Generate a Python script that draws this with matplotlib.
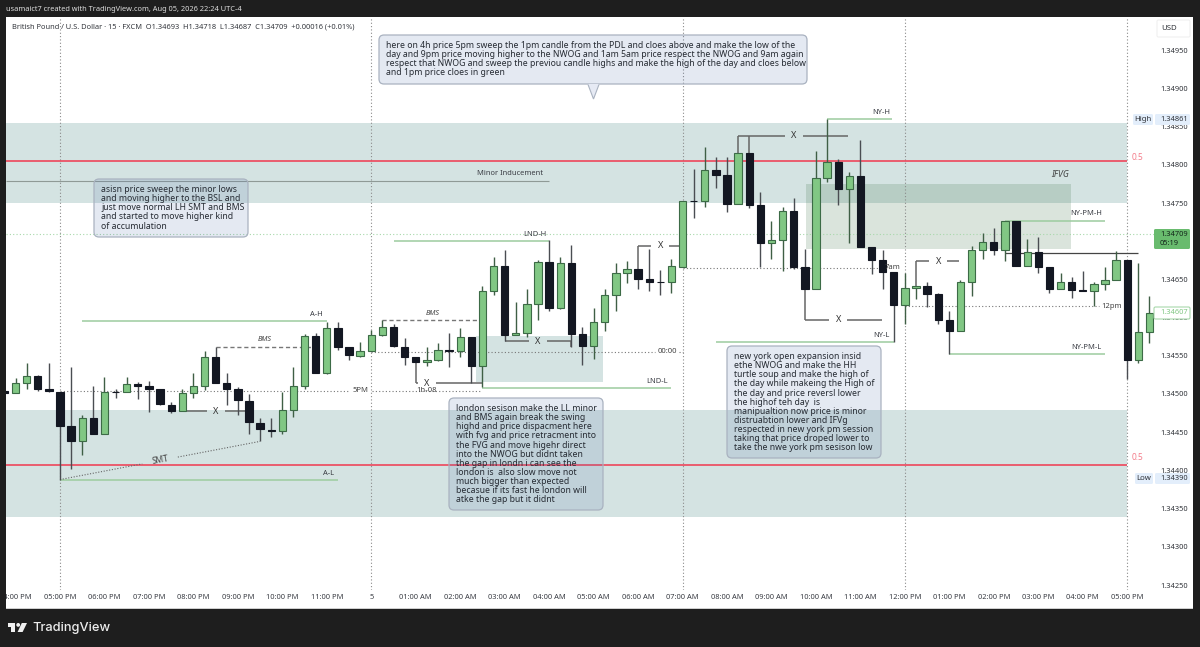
import matplotlib
matplotlib.use("Agg")
import matplotlib.pyplot as plt
import matplotlib.transforms as mt
from matplotlib.patches import Rectangle, FancyBboxPatch, Polygon, Circle

# ---------------- data: 15-minute GBP/USD candles (first bar = 03:45 PM) ----------------
opens = [1.34504,1.34501,1.34514,1.34523,1.34507,
 1.34503,1.34458,1.34439,1.34469,1.34447,1.34503,1.34502,1.34513,1.34510,1.34507,
 1.34486,1.34478,1.34501,1.34511,1.34548,1.34514,1.34506,1.34491,1.34462,1.34453,
 1.34452,1.34479,1.34510,1.34576,1.34527,1.34587,1.34561,1.34550,1.34556,
 1.34577,1.34588,1.34562,1.34549,1.34542,1.34544,1.34558,1.34556,1.34575,1.34537,
 1.34635,1.34668,1.34577,1.34580,1.34618,1.34673,1.34612,1.34671,1.34578,1.34563,
 1.34594,1.34629,1.34658,1.34663,1.34651,1.34646,1.34646,
 1.34666,1.34753,1.34752,1.34793,1.34787,1.34749,1.34816,1.34747,1.34698,1.34701,
 1.34739,1.34666,1.34637,1.34783,1.34804,1.34768,1.34785,1.34693,1.34676,1.34660,
 1.34617,1.34639,1.34642,1.34631,1.34597,1.34582,1.34646,1.34688,1.34699,1.34688,
 1.34726,1.34667,1.34686,1.34666,1.34638,1.34647,1.34636,1.34635,1.34644,1.34649,
 1.34676,1.34545,1.34581]
highs = [1.34504,1.34521,1.34540,1.34525,1.34540,
 1.34503,1.34535,1.34473,1.34510,1.34522,1.34506,1.34522,1.34516,1.34517,1.34507,
 1.34490,1.34507,1.34528,1.34556,1.34561,1.34528,1.34509,1.34500,1.34468,1.34468,
 1.34502,1.34535,1.34578,1.34580,1.34594,1.34594,1.34562,1.34568,1.34584,
 1.34597,1.34592,1.34573,1.34549,1.34562,1.34567,1.34580,1.34587,1.34575,1.34641,
 1.34679,1.34689,1.34620,1.34638,1.34675,1.34701,1.34679,1.34695,1.34588,1.34612,
 1.34637,1.34672,1.34674,1.34663,1.34690,1.34662,1.34677,
 1.34753,1.34795,1.34823,1.34810,1.34810,1.34816,1.34816,1.34764,1.34727,1.34745,
 1.34757,1.34690,1.34818,1.34860,1.34807,1.34790,1.34832,1.34693,1.34689,1.34660,
 1.34658,1.34642,1.34646,1.34632,1.34609,1.34649,1.34694,1.34711,1.34717,1.34727,
 1.34727,1.34703,1.34705,1.34666,1.34659,1.34653,1.34661,1.34646,1.34666,1.34687,
 1.34676,1.34672,1.34628]
lows = [1.34501,1.34501,1.34507,1.34504,1.34503,
 1.34388,1.34402,1.34420,1.34447,1.34447,1.34495,1.34502,1.34493,1.34476,1.34485,
 1.34475,1.34478,1.34495,1.34505,1.34514,1.34486,1.34472,1.34447,1.34438,1.34444,
 1.34448,1.34470,1.34507,1.34527,1.34526,1.34557,1.34545,1.34549,1.34556,
 1.34576,1.34561,1.34538,1.34542,1.34536,1.34543,1.34535,1.34549,1.34515,1.34509,
 1.34629,1.34570,1.34577,1.34575,1.34597,1.34608,1.34611,1.34562,1.34538,1.34546,
 1.34583,1.34608,1.34645,1.34637,1.34635,1.34629,1.34632,
 1.34666,1.34730,1.34745,1.34769,1.34738,1.34749,1.34744,1.34666,1.34677,1.34661,
 1.34663,1.34637,1.34637,1.34778,1.34747,1.34698,1.34693,1.34657,1.34637,1.34568,
 1.34592,1.34625,1.34614,1.34591,1.34552,1.34582,1.34628,1.34677,1.34682,1.34674,
 1.34667,1.34667,1.34658,1.34632,1.34637,1.34626,1.34635,1.34615,1.34636,1.34649,
 1.34520,1.34540,1.34567]
closes = [1.34501,1.34514,1.34523,1.34507,1.34504,
 1.34458,1.34439,1.34469,1.34447,1.34503,1.34502,1.34513,1.34510,1.34507,1.34487,
 1.34478,1.34501,1.34511,1.34548,1.34514,1.34506,1.34492,1.34463,1.34454,1.34452,
 1.34479,1.34510,1.34576,1.34527,1.34587,1.34562,1.34551,1.34556,1.34577,
 1.34588,1.34563,1.34549,1.34542,1.34544,1.34558,1.34556,1.34575,1.34537,1.34635,
 1.34668,1.34577,1.34580,1.34618,1.34673,1.34612,1.34671,1.34578,1.34563,1.34594,
 1.34629,1.34658,1.34663,1.34651,1.34646,1.34646,1.34667,
 1.34753,1.34752,1.34793,1.34787,1.34749,1.34816,1.34747,1.34698,1.34701,1.34739,
 1.34666,1.34637,1.34783,1.34804,1.34768,1.34785,1.34693,1.34676,1.34660,1.34617,
 1.34639,1.34642,1.34631,1.34597,1.34582,1.34646,1.34688,1.34699,1.34688,1.34726,
 1.34667,1.34686,1.34666,1.34638,1.34647,1.34636,1.34635,1.34644,1.34649,1.34676,
 1.34545,1.34581,1.34606]
first_bar = -5
last_price = 1.34709

price_ticks = [1.3425,1.3430,1.3435,1.3440,1.3445,1.3450,1.3455,1.3460,1.3465,1.3470,1.3475,1.3480,1.3485,1.3490,1.3495]
time_ticks = list(range(-4, 97, 4))
time_labels = ["04:00 PM","05:00 PM","06:00 PM","07:00 PM","08:00 PM","09:00 PM","10:00 PM","11:00 PM","5",
 "01:00 AM","02:00 AM","03:00 AM","04:00 AM","05:00 AM","06:00 AM","07:00 AM","08:00 AM","09:00 AM","10:00 AM","11:00 AM",
 "12:00 PM","01:00 PM","02:00 PM","03:00 PM","04:00 PM","05:00 PM"]
session_bars = [0, 28, 56, 76, 96]

# (name, first bar, last bar, price, label bar)
levels = [("A-H",2,24,1.34595,23.1),("A-L",0,25,1.34387,24.2),("LND-H",30,44,1.34700,42.7),
          ("LND-L",38,55,1.34508,53.7),("NY-H",69,74.8,1.34860,73.9),("NY-L",59,75,1.34568,73.9),
          ("NY-PM-H",85,94,1.34727,92.3),("NY-PM-L",80,94,1.34552,92.3)]
zones = [(-4.86,96,1.34750,1.34855),(-4.86,96,1.34339,1.34479)]
mid_lines = [1.34805,1.34407]
small_zone = (37.4,48.8,1.34516,1.34576)
fvg = (67.1,90.9,1.34690,1.34775)
# (first bar, last bar, price, label, label bar)
session_opens = [(0,38,1.34504,"5PM",27.0),(28,56,1.34555,"00:00",54.6),(56,74.2,1.34665,"7am",74.9),(76,94,1.34615,"12pm",94.6)]
# X markers: first bar, last bar, price, label bar, list of (bar, anchor price)
x_marks = [(11,17,1.344775,14,[]),
           (32,38,1.34514,33,[(32,1.34542)]),
           (40,46,1.34569,43,[(46,1.34562)]),
           (52,56,1.34694,54,[(52,1.34663)]),
           (61,70.9,1.34838,66,[(61,1.34816),(62,1.34816)]),
           (67,73.9,1.34597,70,[(67,1.34637)]),
           (77,80.9,1.34674,79,[(77,1.34642)])]
bms = [(14,22.6,1.34561,18.4,1.34571),(29,38,1.34597,33.5,1.34606)]
smt = (0,1.34388,18,1.34438)

notes = [
 (379,35,807,84,386,["here on 4h price 5pm sweep the 1pm candle from the PDL and cloes above and make the low of the",
   "day and 9pm price moving higher to the NWOG and 1am 5am price respect the NWOG and 9am again",
   "respect that NWOG and sweep the previou candle highs and make the high of the day and cloes below",
   "and 1pm price cloes in green"]),
 (94,179,248,237,101,["asisn price sweep the minor lows","and moving higher to the BSL and","just move normal LH SMT and BMS",
   "and started to move higher kind","of accumulation"]),
 (449,398,603,510,456,["london sesison make the LL minor","and BMS again break the swing","highd and price dispacment here",
   "with fvg and price retracment into","the FVG and move higehr direct","into the NWOG but didnt taken",
   "the gap in londn i can see the","london is  also slow move not","much bigger than expected",
   "becasue if its fast he london will","atke the gap but it didnt"]),
 (727,346,881,458,734,["new york open expansion insid","ethe NWOG and make the HH","turtle soup and make the high of",
   "the day while makeing the High of","the day and price reversl lower","the highof teh day  is",
   "manipualtion now price is minor","distruabtion lower and IFVg","respected in new york pm session",
   "taking that price droped lower to","take the nwe york pm sesison low"]),
]

# ---------------- figure ----------------
W, H = 1200, 647
plt.rcParams["font.family"] = ["Noto Sans", "DejaVu Sans"]
fig = plt.figure(figsize=(W/100, H/100), dpi=100, facecolor="#1e1e1e")
PX = mt.Affine2D().scale(1, -1).translate(0, H)

L, R, T, B = 6, 1156, 17, 590
ax = fig.add_axes([L/W, 1-B/H, (R-L)/W, (B-T)/H], facecolor="none")
BAR_PX = 11.117
PX_PER_PRICE = 76400
ax.set_xlim((L-60)/BAR_PX, (R-60)/BAR_PX)
ax.set_ylim(1.3475-(B-203)/PX_PER_PRICE, 1.3475+(203-T)/PX_PER_PRICE)
for s in ax.spines.values():
    s.set_visible(False)

fig.add_artist(Rectangle((6,17),1187,591,transform=PX,facecolor="white",edgecolor="none",zorder=-5))

ax.yaxis.tick_right()
ax.set_yticks(price_ticks)
ax.set_yticklabels([f"{p:.5f}" for p in price_ticks], fontsize=5.35, color="#2f3238")
ax.set_xticks(time_ticks)
ax.set_xticklabels(time_labels, fontsize=5.4, color="#3a3d44")
ax.tick_params(axis="both", length=0)
ax.tick_params(axis="y", pad=3)
ax.tick_params(axis="x", pad=3)

TEAL = "#d4e3e2"
for x0,x1,y0,y1 in zones:
    ax.add_patch(Rectangle((x0,y0),x1-x0,y1-y0,facecolor=TEAL,edgecolor="none",zorder=1))
ax.add_patch(Rectangle((small_zone[0],small_zone[2]),small_zone[1]-small_zone[0],small_zone[3]-small_zone[2],
                       facecolor=TEAL,edgecolor="none",zorder=1))
ax.add_patch(Rectangle((fvg[0],fvg[2]),fvg[1]-fvg[0],fvg[3]-fvg[2],facecolor=(0.16,0.39,0.2),alpha=0.17,edgecolor="none",zorder=1.2))

for b in session_bars:
    ax.axvline(b,color="#8a8a8a",lw=0.8,ls=(0,(1,2)),zorder=1.5)
ax.hlines(last_price,(L-60)/BAR_PX,(R-60)/BAR_PX,color="#a8d8ab",lw=0.8,ls=(0,(1,2)),zorder=1.5)

for y in mid_lines:
    ax.hlines(y,-4.86,96,color="#f0394f",lw=1.1,zorder=2)
ax.text(96.4,1.34810,"0.5",color="#f47c8a",fontsize=6,va="center",ha="left")
ax.text(96.4,1.34417,"0.5",color="#f47c8a",fontsize=6,va="center",ha="left")

GL = "#9ccc9f"
ax.hlines(1.34779,-4.86,44,color="#8f9a96",lw=0.8,zorder=2)
ax.text(40.5,1.34788,"Minor Inducement",fontsize=5.4,fontweight="bold",color="#3a3d44",ha="center",va="center",zorder=6)
for name,x0,x1,y,lx in levels:
    ax.hlines(y,x0,x1,color=GL,lw=1.1,zorder=2)
    ax.text(lx,y+0.00009,name,fontsize=5.4,fontweight="bold",color="#3a3d44",ha="center",va="center",zorder=6)
ax.hlines(1.34685,85,97,color="#444",lw=0.9,zorder=2)
ax.text(90,1.34787,"IFVG",fontsize=6.3,style="italic",color="#444",ha="center",va="center",zorder=6)

# candles
xs = [first_bar+i for i in range(len(opens))]
for x,o,h,l,c in zip(xs,opens,highs,lows,closes):
    up = c > o
    ax.vlines(x,l,h,color="#3f5f45" if up else "#4a4d52",lw=1.0,zorder=3)
    ax.bar(x,abs(c-o),bottom=min(o,c),width=0.66,color="#81c784" if up else "#131722",
           edgecolor="#3c6b46" if up else "#131722",linewidth=0.8,zorder=4)

# session open lines
DOT = dict(color="#777",lw=0.8,ls=(0,(1,2)),zorder=2.5)
for x0,x1,y,lab,lx in session_opens:
    ax.hlines(y,x0,lx-1.1,**DOT)
    if lx+1.1 < x1:
        ax.hlines(y,lx+1.1,x1,**DOT)
    ax.text(lx,y,lab,fontsize=5.5,color="#444",ha="center",va="center",zorder=6)
ax.text(33,1.34504,"1h-08",fontsize=5.5,color="#444",ha="center",va="center",zorder=6)

# X markers
GR = dict(color="#666",lw=1.1,zorder=2.6)
for x0,x1,y,lx,anch in x_marks:
    ax.hlines(y,x0,lx-0.8,**GR)
    ax.hlines(y,lx+0.8,x1,**GR)
    ax.text(lx,y,"X",fontsize=6.6,fontweight="bold",color="#333",ha="center",va="center",zorder=6)
    for bx,py in anch:
        ax.vlines(bx,min(y,py),max(y,py),**GR)

# BMS
for x0,x1,y,lx,ly in bms:
    ax.hlines(y,x0,x1,color="#777",lw=1.0,ls=(0,(3,2)),zorder=2.6)
    ax.text(lx,ly,"BMS",fontsize=5.2,style="italic",color="#444",ha="center",va="center",zorder=6)

# SMT
x0,y0,x1,y1 = smt
mx,my = (x0+x1)/2,(y0+y1)/2
f = 1.6/(x1-x0)
ax.plot([x0,mx-1.6],[y0,my-f*(y1-y0)],color="#666",lw=0.8,ls=(0,(1,1.5)),zorder=2.6)
ax.plot([mx+1.6,x1],[my+f*(y1-y0),y1],color="#666",lw=0.8,ls=(0,(1,1.5)),zorder=2.6)
ax.text(mx,my,"SMT",fontsize=6,color="#444",rotation=10.5,ha="center",va="center",zorder=6)

# notes
for x0,y0,x1,y1,tx,lines in notes:
    fig.add_artist(FancyBboxPatch((x0,y0),x1-x0,y1-y0,boxstyle="round,pad=0,rounding_size=5",transform=PX,
        facecolor=(0.31,0.43,0.67,0.15),edgecolor="#a9b2c0",lw=0.9,zorder=3))
    for i,line in enumerate(lines):
        fig.text(tx,y0+6+4.5+i*9.15,line,transform=PX,fontsize=6.25,color="#262b33",va="center",ha="left",zorder=4)
fig.add_artist(Polygon([(588,84),(599,84),(593.5,99)],closed=True,transform=PX,facecolor="#e6eaf4",edgecolor="none",zorder=3.1))
fig.add_artist(Polygon([(588,84.5),(593.5,99),(599,84.5)],closed=False,fill=False,transform=PX,edgecolor="#a9b2c0",lw=0.8,zorder=3.2))

# price scale tags
def tag(x0,y0,x1,y1,face,edge="none",z=7):
    fig.add_artist(FancyBboxPatch((x0,y0),x1-x0,y1-y0,boxstyle="round,pad=0,rounding_size=1.5",transform=PX,facecolor=face,edgecolor=edge,lw=0.8,zorder=z))
def ptext(x,y,s,c="#2f3238",fs=5.35,ha="left"):
    fig.text(x,y,s,transform=PX,fontsize=fs,color=c,va="center",ha=ha,zorder=8)
tag(1157,20,1190,37,"white","#f0f0f0")
ptext(1161,28.5,"USD",fs=5.6)
tag(1133,114,1153,125,"#e3eefb"); ptext(1143,119.5,"High",fs=5.6,ha="center")
tag(1155,114,1190,125,"#e3eefb"); ptext(1160,119.5,"1.34861")
tag(1135,473,1153,484,"#e3eefb"); ptext(1144,478.5,"Low",fs=5.6,ha="center")
tag(1155,473,1190,484,"#e3eefb"); ptext(1160,478.5,"1.34390")
tag(1154,229,1190,249,"#69bb6e")
ptext(1160,234.5,"1.34709",c="#13251a"); ptext(1160,243.5,"05:19",c="#13251a")
tag(1154,307,1190,319,"white","#a8d8ab")
ptext(1160,313,"1.34607",c="#81c784")

# frame on top
fig.add_artist(Rectangle((0,0),6,H,transform=PX,facecolor="#1e1e1e",edgecolor="none",zorder=9))
fig.add_artist(Rectangle((6,608),1187,1,transform=PX,facecolor="#cfcfcf",edgecolor="none",zorder=9))

fig.text(6,9.5,"usamaict7 created with TradingView.com, Aug 05, 2026 22:24 UTC-4",transform=PX,fontsize=5.35,color="#dedede",va="center",ha="left",zorder=10)
fig.text(12,26.5,"British Pound / U.S. Dollar · 15 · FXCM  O1.34693  H1.34718  L1.34687  C1.34709  +0.00016 (+0.01%)",transform=PX,fontsize=5.37,color="#33363c",va="center",ha="left",zorder=10)

# logo
LOGO = "#f0f0f0"
fig.add_artist(Polygon([(7.5,623),(15.2,623),(15.2,632),(11,632),(11,626.8),(7.5,626.8)],transform=PX,facecolor=LOGO,edgecolor="none",zorder=10))
fig.add_artist(Circle((18.2,624.9),1.9,transform=PX,facecolor=LOGO,edgecolor="none",zorder=10))
fig.add_artist(Polygon([(21.8,623),(27,623),(22.6,632),(17.6,632)],transform=PX,facecolor=LOGO,edgecolor="none",zorder=10))
fig.text(32,627.5,"TradingView",transform=PX,fontsize=9.25,color="#ededed",va="center",ha="left",zorder=10,family="Inter",fontweight="medium")

fig.savefig("out.png",dpi=100,facecolor=fig.get_facecolor())
